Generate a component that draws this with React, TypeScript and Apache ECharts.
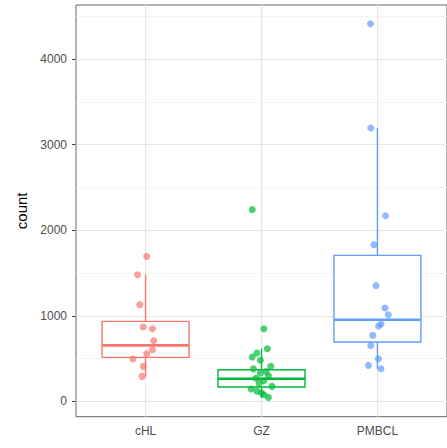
import React, { useEffect, useRef } from "react";
import * as echarts from "echarts";

const categories = ["cHL", "GZ", "PMBCL"];
const colors = ["#F8766D", "#00BA38", "#619CFF"];
const yTicks = [0, 1000, 2000, 3000, 4000];
const yMinorGrid = [500, 1500, 2500, 3500, 4500];
const xTicks = [1, 2, 3];

// [lower whisker, Q1, median, Q3, upper whisker]
const cHLBox = [292, 514, 654, 935, 1480];
const gzBox = [40, 168, 265, 370, 616];
const pmbclBox = [382, 694, 954, 1706, 3194];

const cHLValues = [1694, 1480, 1130, 869, 849, 709, 604, 557, 495, 409, 292];
const cHLJitter = [0.01, -0.07, -0.05, -0.02, 0.06, 0.07, 0.06, 0.01, -0.11, -0.02, -0.03];

const gzValues = [2240, 849, 614, 565, 519, 480, 409, 380, 350, 330, 300, 270, 240, 210, 175, 145, 120, 98, 78, 47];
const gzJitter = [-0.08, 0.02, 0.05, -0.04, -0.08, -0.01, 0.08, -0.07, 0.04, -0.01, 0.06, -0.05, 0.02, -0.02, 0.09, -0.09, -0.04, 0.0, 0.02, 0.06];

const pmbclValues = [4412, 3194, 2169, 1831, 1352, 1091, 1013, 902, 880, 771, 654, 499, 421, 382];
const pmbclJitter = [-0.06, -0.057, 0.07, -0.03, -0.012, 0.065, 0.094, 0.03, 0.01, -0.04, -0.057, 0.008, -0.077, 0.03];

const FONT = "'Liberation Sans', Arial, sans-serif";

export default function App() {
  const ref = useRef<HTMLDivElement>(null);
  useEffect(() => {
    document.body.style.margin = "0";
    if (!ref.current) return;
    const chart = echarts.init(ref.current, undefined, { renderer: "svg" });
    const boxData = [
      [1, ...cHLBox],
      [2, ...gzBox],
      [3, ...pmbclBox],
    ];
    const pointSets = [
      { values: cHLValues, jitter: cHLJitter },
      { values: gzValues, jitter: gzJitter },
      { values: pmbclValues, jitter: pmbclJitter },
    ];
    const major = { color: "#e6e6e6", width: 1.2, type: "solid" };
    const minor = { color: "#f1f1f1", width: 0.8, type: "solid" };
    chart.setOption({
      animation: false,
      grid: {
        left: 76,
        top: 5,
        right: -4.5,
        bottom: 31.3,
        show: true,
        backgroundColor: "#ffffff",
        borderColor: "#666666",
        borderWidth: 1,
      },
      xAxis: {
        type: "value",
        min: 0.4,
        max: 3.6,
        axisLine: { show: false },
        splitLine: { show: false },
        axisTick: { show: true, customValues: xTicks, length: 4, lineStyle: { color: "#444" } },
        axisLabel: {
          customValues: xTicks,
          formatter: (v: number) => categories[Math.round(v) - 1] ?? "",
          color: "#4d4d4d",
          fontSize: 12,
          fontFamily: FONT,
          margin: 8,
        },
      },
      yAxis: {
        type: "value",
        min: -179,
        max: 4631,
        name: "count",
        nameLocation: "middle",
        nameRotate: 90,
        nameGap: 41,
        nameTextStyle: { color: "#000", fontSize: 15, fontFamily: FONT },
        axisLine: { show: false },
        splitLine: { show: false },
        axisTick: { show: true, customValues: yTicks, length: 4, lineStyle: { color: "#444" } },
        axisLabel: {
          customValues: yTicks,
          formatter: (v: number) => String(Math.round(v)),
          color: "#4d4d4d",
          fontSize: 12,
          fontFamily: FONT,
          margin: 9,
        },
      },
      series: [
        {
          type: "scatter",
          data: [],
          silent: true,
          z: 1,
          markLine: {
            silent: true,
            z: 1,
            symbol: "none",
            label: { show: false },
            animation: false,
            data: [
              ...yMinorGrid.map((v) => ({ yAxis: v, lineStyle: minor })),
              ...yTicks.map((v) => ({ yAxis: v, lineStyle: major })),
              ...xTicks.map((v) => ({ xAxis: v, lineStyle: major })),
            ],
          },
        },
        {
          type: "custom",
          z: 2,
          data: boxData,
          encode: { x: 0, y: [1, 2, 3, 4, 5] },
          renderItem: (params: any, api: any) => {
            const x = api.value(0);
            const lo = api.coord([x, api.value(1)]);
            const q1 = api.coord([x, api.value(2)]);
            const med = api.coord([x, api.value(3)]);
            const q3 = api.coord([x, api.value(4)]);
            const hi = api.coord([x, api.value(5)]);
            const half = api.size([0.75, 0])[0] / 2;
            const color = colors[params.dataIndex];
            const lw = 1.4;
            return {
              type: "group",
              children: [
                { type: "line", shape: { x1: q3[0], y1: q3[1], x2: hi[0], y2: hi[1] }, style: { stroke: color, lineWidth: lw } },
                { type: "line", shape: { x1: lo[0], y1: lo[1], x2: q1[0], y2: q1[1] }, style: { stroke: color, lineWidth: lw } },
                {
                  type: "rect",
                  shape: { x: q3[0] - half, y: q3[1], width: half * 2, height: q1[1] - q3[1] },
                  style: { fill: "#ffffff", stroke: color, lineWidth: lw },
                },
                { type: "line", shape: { x1: med[0] - half, y1: med[1], x2: med[0] + half, y2: med[1] }, style: { stroke: color, lineWidth: 2.6 } },
              ],
            };
          },
        },
        ...pointSets.map((s, ci) => ({
          type: "scatter",
          z: 3,
          symbol: "circle",
          symbolSize: 7,
          itemStyle: { color: colors[ci], opacity: 0.7 },
          data: s.values.map((v, i) => [ci + 1 + s.jitter[i], v]),
        })),
      ],
    });
    return () => chart.dispose();
  }, []);
  return <div ref={ref} style={{ width: 447, height: 448 }} />;
}
